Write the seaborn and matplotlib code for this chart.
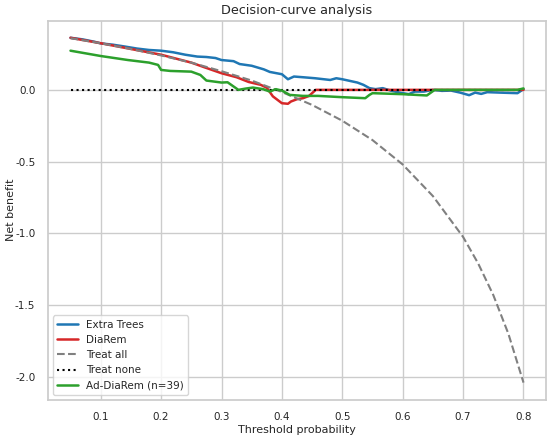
import numpy as np
import pandas as pd
import matplotlib
matplotlib.use('Agg')
import matplotlib.pyplot as plt
import seaborn as sns

sns.set_theme(style='whitegrid', font_scale=0.7)
plt.rcParams['font.family'] = ['DejaVu Sans']
plt.rcParams['axes.unicode_minus'] = False  # plain hyphen as in the reference

# Extra Trees
et_thr = [0.05, 0.07, 0.09, 0.10, 0.12, 0.14, 0.16, 0.18, 0.20, 0.22, 0.24, 0.26,
          0.275, 0.29, 0.30, 0.32, 0.33, 0.35, 0.37, 0.38, 0.40, 0.41, 0.42, 0.435,
          0.455, 0.48, 0.49, 0.50, 0.525, 0.535, 0.545, 0.555, 0.567, 0.58, 0.595,
          0.61, 0.62, 0.635, 0.65, 0.665, 0.68, 0.695, 0.71, 0.72, 0.73, 0.74,
          0.76, 0.79, 0.80]
et_nb = [0.363, 0.352, 0.335, 0.324, 0.315, 0.302, 0.288, 0.278, 0.273, 0.262, 0.245,
         0.232, 0.229, 0.222, 0.208, 0.200, 0.180, 0.168, 0.143, 0.125, 0.109, 0.074,
         0.093, 0.088, 0.081, 0.069, 0.081, 0.074, 0.051, 0.035, 0.012, 0.005, 0.012,
         -0.005, -0.019, -0.030, -0.012, -0.012, 0.0, -0.007, -0.005, -0.019, -0.037,
         -0.019, -0.028, -0.016, -0.019, -0.023, 0.005]

# DiaRem
dr_thr = [0.05, 0.10, 0.15, 0.20, 0.25, 0.27, 0.30, 0.325, 0.345, 0.365, 0.375, 0.385,
          0.40, 0.41, 0.415, 0.425, 0.435, 0.445, 0.456, 0.50, 0.60, 0.70, 0.80]
dr_nb = [0.363, 0.325, 0.285, 0.245, 0.19, 0.16, 0.116, 0.088, 0.055, 0.035, 0.015,
         -0.045, -0.093, -0.097, -0.081, -0.065, -0.058, -0.042, 0.0, 0.0, 0.0, 0.0, 0.0]

# Treat all
ta_thr = [0.05, 0.10, 0.15, 0.20, 0.25, 0.30, 0.35, 0.40, 0.45, 0.50, 0.55, 0.60,
          0.65, 0.70, 0.725, 0.75, 0.775, 0.80]
ta_nb = [0.36, 0.325, 0.285, 0.24, 0.19, 0.13, 0.065, -0.015, -0.105, -0.215, -0.35,
         -0.52, -0.74, -1.025, -1.21, -1.43, -1.70, -2.04]

# Treat none
tn_thr = [0.05, 0.80]
tn_nb = [0.0, 0.0]

# Ad-DiaRem (n=39)
ad_thr = [0.05, 0.10, 0.145, 0.18, 0.195, 0.20, 0.215, 0.25, 0.265, 0.275, 0.30, 0.31,
          0.328, 0.34, 0.352, 0.369, 0.38, 0.39, 0.40, 0.413, 0.435, 0.46, 0.50, 0.538,
          0.545, 0.55, 0.60, 0.64, 0.653, 0.70, 0.79, 0.80]
ad_nb = [0.273, 0.236, 0.208, 0.19, 0.174, 0.139, 0.132, 0.127, 0.104, 0.065, 0.051,
         0.053, 0.0, 0.009, 0.016, 0.005, -0.012, 0.005, -0.005, -0.035, -0.042, -0.042,
         -0.051, -0.058, -0.035, -0.023, -0.030, -0.039, 0.0, 0.0, 0.0, 0.01]

fig, ax = plt.subplots(figsize=(5.5, 4.37), dpi=100)
sns.lineplot(x=et_thr, y=et_nb, ax=ax, color='#1f77b4', lw=1.8, label='Extra Trees')
sns.lineplot(x=dr_thr, y=dr_nb, ax=ax, color='#d62728', lw=1.8, label='DiaRem')
sns.lineplot(x=ta_thr, y=ta_nb, ax=ax, color='grey', lw=1.5, ls='--', label='Treat all')
sns.lineplot(x=tn_thr, y=tn_nb, ax=ax, color='black', lw=1.5, ls=':', label='Treat none')
sns.lineplot(x=ad_thr, y=ad_nb, ax=ax, color='#2ca02c', lw=1.8, label='Ad-DiaRem (n=39)')

ax.set_title('Decision-curve analysis', fontsize=9.2, pad=5)
ax.set_xlabel('Threshold probability', fontsize=8, labelpad=2)
ax.set_ylabel('Net benefit', fontsize=8)
ax.yaxis.set_label_coords(-0.064, 0.5)
ax.tick_params(labelsize=7.5, pad=3)
ax.legend(loc='lower left', fontsize=7.5, labelspacing=0.5)
plt.subplots_adjust(left=0.087, right=0.993, top=0.953, bottom=0.085)
plt.savefig('out.png', dpi=100)
